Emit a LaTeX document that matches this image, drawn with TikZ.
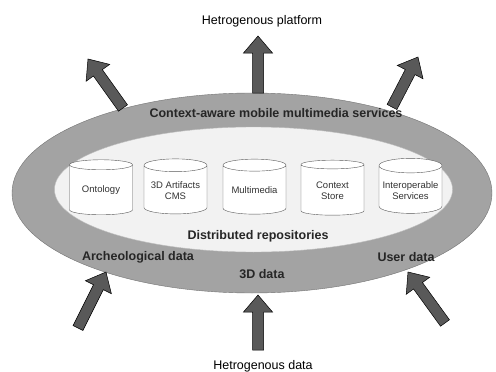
\documentclass[tikz,border=0pt]{standalone}
\usepackage{fontspec}
\setmainfont{Liberation Sans}
\usetikzlibrary{shapes.geometric,calc}
\tikzset{
  band/.style={ellipse, draw=black!55, fill=black!36, inner sep=0pt},
  innerell/.style={ellipse, draw=black!25, fill=black!5, inner sep=0pt},
  repo/.style={cylinder, shape border rotate=90, aspect=0.25, draw=black!65, fill=white,
    minimum width=63pt, minimum height=55pt, inner sep=1pt, align=center,
    font=\fontsize{9.5}{11}\selectfont, text=black!80},
  bandlbl/.style={font=\bfseries\fontsize{12.5}{14}\selectfont, text=black!85},
  outlbl/.style={font=\fontsize{12.5}{15}\selectfont, text=black},
  barrow/.style={draw=black, fill=black!65, line width=0.5pt, line join=miter},
}
\newcommand\blockarrow[2]{%
  \coordinate (#1h) at ($(#2)!17pt!(#1)$);
  \draw[barrow] ($(#1)!5.5pt!90:(#2)$) -- ($(#1h)!5.5pt!90:(#2)$) -- ($(#1h)!14.5pt!90:(#2)$)
    -- (#2) -- ($(#1h)!14.5pt!-90:(#2)$) -- ($(#1h)!5.5pt!-90:(#2)$) -- ($(#1)!5.5pt!-90:(#2)$) -- cycle;}
\begin{document}
\begin{tikzpicture}[x=1pt,y=-1pt]
\path[use as bounding box, fill=white] (0,0) rectangle (496,372);
% ellipses
\node[band, minimum width=480pt, minimum height=200pt] (outer) at (252,193) {};
\node[innerell, minimum width=398pt, minimum height=125pt] (inner) at (253.5,189.5) {};
% repositories
\node[repo] (ont) at (101,190.5) {Ontology};
\node[repo] (cms) at (175.5,190.5) {3D Artifacts\\CMS};
\node[repo] (mm) at (254.5,190.5) {Multimedia};
\node[repo] (ctx) at (332.5,190.5) {Context\\Store};
\node[repo] (ios) at (410.5,190.5) {Interoperable\\Services};
% labels
\node[bandlbl] (svc) at (276,113) {Context-aware mobile multimedia services};
\node[bandlbl] (dist) at (258,236) {Distributed repositories};
\node[bandlbl] (arch) at (138,257) {Archeological data};
\node[bandlbl] (d3) at (262,274) {3D data};
\node[bandlbl] (usr) at (406,257) {User data};
\node[outlbl] (plat) at (262,21) {Hetrogenous platform};
\node[outlbl] (hdata) at (263,366) {Hetrogenous data};
% arrow coordinates
\coordinate (tcT) at (258,93);  \coordinate (tcP) at (258,36);
\coordinate (tlT) at (123,108); \coordinate (tlP) at (88,59);
\coordinate (trT) at (392,107); \coordinate (trP) at (418,57);
\coordinate (blT) at (78,328);  \coordinate (blP) at (106,272);
\coordinate (bcT) at (258,350); \coordinate (bcP) at (258,295);
\coordinate (brT) at (445,323); \coordinate (brP) at (408,272);
\blockarrow{tcT}{tcP}
\blockarrow{tlT}{tlP}
\blockarrow{trT}{trP}
\blockarrow{blT}{blP}
\blockarrow{bcT}{bcP}
\blockarrow{brT}{brP}
\end{tikzpicture}
\end{document}
